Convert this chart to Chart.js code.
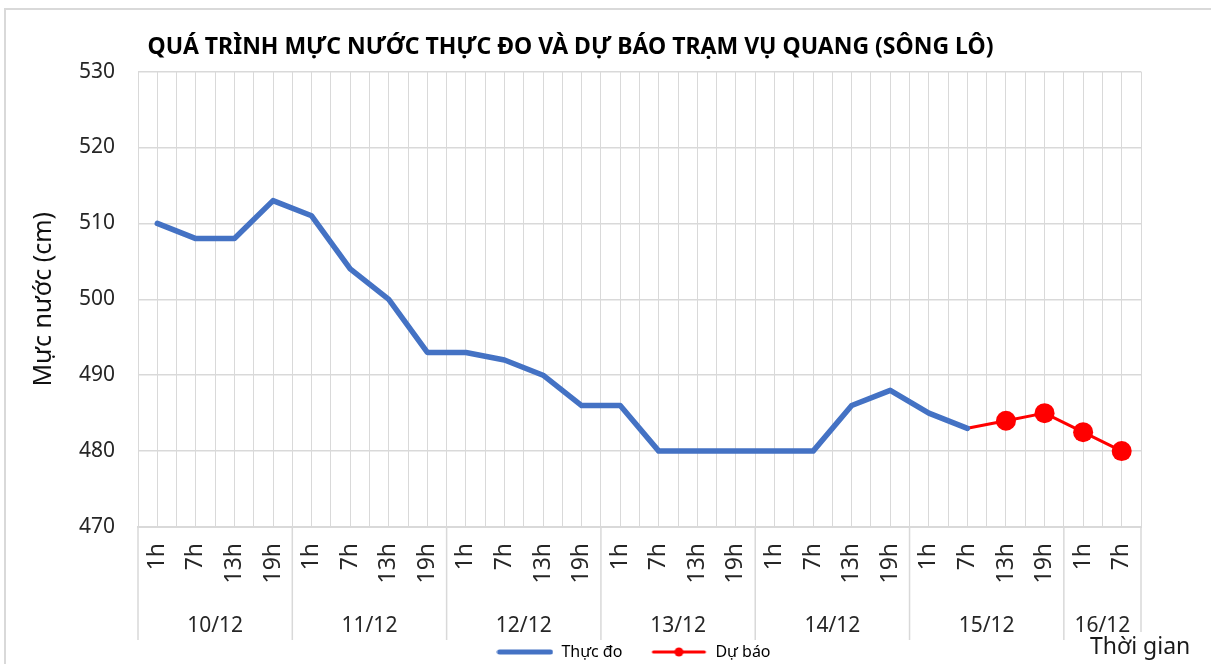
<!DOCTYPE html>
<html>
<head>
<meta charset="utf-8">
<script src="https://cdn.jsdelivr.net/npm/chart.js@4.4.1/dist/chart.umd.min.js"></script>
<style>
    html, body { margin: 0; padding: 0; background: #fff; }
    #wrap { width: 1211px; height: 664px; }
</style>
</head>
<body>
<div id="wrap"><canvas id="myChart" width="1211" height="664"></canvas></div>
<script>
// #region data
const timeLabels = [
    '1h', '7h', '13h', '19h',
    '1h', '7h', '13h', '19h',
    '1h', '7h', '13h', '19h',
    '1h', '7h', '13h', '19h',
    '1h', '7h', '13h', '19h',
    '1h', '7h', '13h', '19h',
    '1h', '7h'
];
const dayLabels = ['10/12', '11/12', '12/12', '13/12', '14/12', '15/12', '16/12'];
const daySpans = [4, 4, 4, 4, 4, 4, 2];

const measured = [
    510, 508, 508, 513,
    511, 504, 500, 493,
    493, 492, 490, 486,
    486, 480, 480, 480,
    480, 480, 486, 488,
    485, 483, null, null,
    null, null
];
const forecast = [
    null, null, null, null,
    null, null, null, null,
    null, null, null, null,
    null, null, null, null,
    null, null, null, null,
    null, 483, 484, 485,
    482.5, 480
];
const yTicks = [470, 480, 490, 500, 510, 520, 530];
// #endregion data

const
    FONT = '"Noto Sans", "DejaVu Sans", sans-serif',
    GRID = '#d9d9d9',
    TEXT = '#262626',
    BLUE = '#4472C4',
    RED = '#FF0000';

const firstForecast = forecast.findIndex(v => v !== null);

function makeSwatch(color, lw, dot) {
    const c = document.createElement('canvas');
    c.width = 57;
    c.height = 12;
    const g = c.getContext('2d');
    g.strokeStyle = color;
    g.lineWidth = lw;
    g.lineCap = 'round';
    g.beginPath();
    g.moveTo(3, 6);
    g.lineTo(54, 6);
    g.stroke();
    if (dot) {
        g.fillStyle = color;
        g.beginPath();
        g.arc(28.5, 6, 4.5, 0, Math.PI * 2);
        g.fill();
    }
    return c;
}

const frame = {
    id: 'frame',
    beforeDraw(chart) {
        const ctx = chart.ctx;
        ctx.save();
        ctx.fillStyle = '#fff';
        ctx.fillRect(0, 0, chart.width, chart.height);
        ctx.strokeStyle = GRID;
        ctx.lineWidth = 2;
        ctx.beginPath();
        ctx.moveTo(5, chart.height);
        ctx.lineTo(5, 9);
        ctx.lineTo(chart.width, 9);
        ctx.stroke();
        ctx.restore();
    }
};

// second row of the category axis: days + separators, plus the axis title
const dayAxis = {
    id: 'dayAxis',
    afterDraw(chart) {
        const xs = chart.scales.x, ctx = chart.ctx, bottom = chart.chartArea.bottom;
        const half = (xs.getPixelForValue(1) - xs.getPixelForValue(0)) / 2;
        ctx.save();
        ctx.strokeStyle = GRID;
        ctx.lineWidth = 1.5;
        ctx.fillStyle = TEXT;
        ctx.font = '21px ' + FONT;
        ctx.textAlign = 'center';
        ctx.textBaseline = 'alphabetic';
        let start = 0;
        daySpans.forEach((n, i) => {
            const x0 = xs.getPixelForValue(start) - half;
            const x1 = xs.getPixelForValue(start + n - 1) + half;
            ctx.beginPath();
            ctx.moveTo(x0, bottom);
            ctx.lineTo(x0, 640);
            if (i === daySpans.length - 1) {
                ctx.moveTo(x1, bottom);
                ctx.lineTo(x1, 632);
            }
            ctx.stroke();
            ctx.fillText(dayLabels[i], (x0 + x1) / 2, 632);
            start += n;
        });
        ctx.font = '23px ' + FONT;
        ctx.textAlign = 'left';
        ctx.fillStyle = '#1a1a1a';
        ctx.fillText('Thời gian', 1090, 654);
        ctx.restore();
    }
};

const legendShift = {
    id: 'legendShift',
    afterLayout(chart) {
        const lg = chart.legend;
        const dx = 63, dy = 643 - (lg.top + lg.height / 2);
        lg.left += dx; lg.right += dx;
        lg.top += dy; lg.bottom += dy;
    }
};

const graph = document.querySelector('#myChart');

new Chart(graph.getContext('2d'), {
    type: 'line',
    data: {
        labels: timeLabels,
        datasets: [{
            label: 'Thực đo',
            data: measured,
            borderColor: BLUE,
            backgroundColor: BLUE,
            borderWidth: 5.5,
            borderJoinStyle: 'round',
            borderCapStyle: 'round',
            pointRadius: 0,
            pointHoverRadius: 0,
            tension: 0
        }, {
            label: 'Dự báo',
            data: forecast,
            borderColor: RED,
            backgroundColor: RED,
            borderWidth: 3,
            borderJoinStyle: 'round',
            pointRadius: c => (c.dataIndex === firstForecast ? 0 : 10),
            pointHoverRadius: c => (c.dataIndex === firstForecast ? 0 : 10),
            pointBorderWidth: 0,
            tension: 0
        }]
    },
    options: {
        responsive: false,
        animation: false,
        devicePixelRatio: 1,
        layout: { padding: { left: 0, right: 70, top: 0, bottom: 0 } },
        scales: {
            x: {
                type: 'category',
                offset: true,
                grid: { offset: true, color: GRID, drawTicks: false },
                border: { color: GRID, width: 2 },
                ticks: {
                    autoSkip: false,
                    minRotation: 90,
                    maxRotation: 90,
                    padding: 16,
                    color: TEXT,
                    font: { family: FONT, size: 23 }
                },
                afterFit(s) {
                    s.height = 137 - (s.chart.legend ? s.chart.legend.height : 0);
                }
            },
            x2: {
                type: 'category',
                position: 'top',
                labels: timeLabels,
                offset: true,
                grid: { offset: false, color: GRID, drawTicks: false },
                border: { display: false },
                ticks: { display: false },
                afterFit(s) { s.height = 0; }
            },
            y: {
                min: yTicks[0],
                max: yTicks[yTicks.length - 1],
                ticks: {
                    stepSize: yTicks[1] - yTicks[0],
                    padding: 23,
                    color: TEXT,
                    font: { family: FONT, size: 21 }
                },
                grid: { color: GRID, drawTicks: false, lineWidth: 1.5 },
                border: { display: false },
                title: {
                    display: true,
                    text: 'Mực nước (cm)',
                    color: '#111',
                    font: { family: FONT, size: 25 },
                    padding: { top: 29, bottom: 0 }
                },
                afterFit(s) { s.width = 138; }
            }
        },
        plugins: {
            title: {
                display: true,
                text: 'QUÁ TRÌNH MỰC NƯỚC THỰC ĐO VÀ DỰ BÁO TRẠM VỤ QUANG (SÔNG LÔ)',
                color: '#000',
                font: { family: FONT, size: 23, weight: 'bold' },
                padding: { top: 34, bottom: 10 }
            },
            legend: {
                position: 'bottom',
                labels: {
                    usePointStyle: true,
                    pointStyleWidth: 57,
                    padding: 28,
                    color: '#404040',
                    font: { family: FONT, size: 16 },
                    generateLabels: () => [
                        { text: 'Thực đo', pointStyle: makeSwatch(BLUE, 5, false), fillStyle: BLUE, strokeStyle: BLUE, lineWidth: 0, datasetIndex: 0, hidden: false },
                        { text: 'Dự báo', pointStyle: makeSwatch(RED, 3, true), fillStyle: RED, strokeStyle: RED, lineWidth: 0, datasetIndex: 1, hidden: false }
                    ]
                }
            },
            tooltip: { enabled: false }
        }
    },
    plugins: [frame, dayAxis, legendShift]
});
</script>
</body>
</html>
